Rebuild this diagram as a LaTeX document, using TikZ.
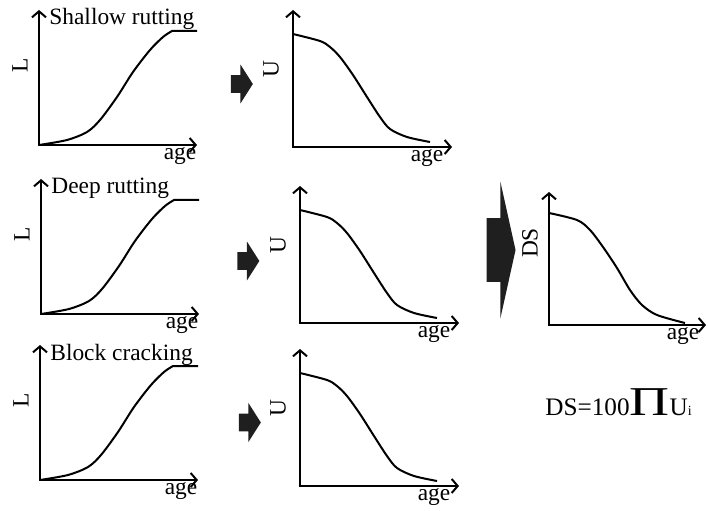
\documentclass[tikz,border=0pt]{standalone}
\usepackage{fontspec}
\usepackage{graphicx}
\setmainfont{Liberation Serif}
\usetikzlibrary{arrows.meta, shapes.arrows, positioning}

\begin{document}
\begin{tikzpicture}[x=0.5pt, y=0.5pt,
    axis/.style={line width=1pt, <->, >={Straight Barb[length=3pt,width=7pt]}},
    curve/.style={line width=1pt, smooth},
    lbl/.style={font=\fontsize{11.7}{14}\selectfont, inner sep=0pt},
    ylbl/.style={lbl, rotate=90},
    blockarrow/.style={single arrow, fill=black!88, draw=none, inner xsep=0pt, inner ysep=4.25pt, single arrow head extend=5.25pt, single arrow tip angle=115, minimum height=11pt},
    bigarrow/.style={single arrow, fill=black!88, draw=none, inner xsep=0pt, inner ysep=15.75pt, single arrow head extend=18.25pt, single arrow tip angle=155, minimum height=14.5pt}
]
    \useasboundingbox (0,0) rectangle (708,510);

    % LEFT: DISTRESS CURVES
    \begin{scope}[shift={(39,365)}]
        \draw[axis] (0,135) |- (158,0);
        \draw[curve] plot coordinates {(0,0) (28,5) (48,13) (61,25) (78,48) (94,73) (111,95) (124,108) (133,114)} -- (158,114);
        \node[ylbl] (L1) at (-19,80) {L};
        \node[lbl] (age1) at (141,-11) {age};
        \node[lbl, anchor=base west] (title1) at (10,120) {Shallow rutting};
    \end{scope}
    \begin{scope}[shift={(41,196)}]
        \draw[axis] (0,135) |- (158,0);
        \draw[curve] plot coordinates {(0,0) (28,5) (48,13) (61,25) (78,48) (94,73) (111,95) (124,108) (133,114)} -- (158,114);
        \node[ylbl] (L2) at (-19,80) {L};
        \node[lbl] (age2) at (141,-11) {age};
        \node[lbl, anchor=base west] (title2) at (10,120) {Deep rutting};
    \end{scope}
    \begin{scope}[shift={(40,30)}]
        \draw[axis] (0,135) |- (158,0);
        \draw[curve] plot coordinates {(0,0) (28,5) (48,13) (61,25) (78,48) (94,73) (111,95) (124,108) (133,114)} -- (158,114);
        \node[ylbl] (L3) at (-19,80) {L};
        \node[lbl] (age3) at (141,-11) {age};
        \node[lbl, anchor=base west] (title3) at (10,120) {Block cracking};
    \end{scope}

    % MIDDLE: UTILITY CURVES
    \node[blockarrow] (arrow1) at (239,426) {};
    \begin{scope}[shift={(293,363)}]
        \draw[axis] (0,137) |- (159,0);
        \draw[curve] plot coordinates {(0,113) (27,106) (37,100) (47,90) (60,72) (74,50) (87,30) (97,18) (114,10) (137,5)};
        \node[ylbl] (U1) at (-22,78) {U};
        \node[lbl] (age4) at (134,-11) {age};
    \end{scope}
    \node[blockarrow] (arrow2) at (245.5,249) {};
    \begin{scope}[shift={(300,187)}]
        \draw[axis] (0,137) |- (159,0);
        \draw[curve] plot coordinates {(0,113) (27,106) (37,100) (47,90) (60,72) (74,50) (87,30) (97,18) (114,10) (137,5)};
        \node[ylbl] (U2) at (-22,78) {U};
        \node[lbl] (age5) at (134,-11) {age};
    \end{scope}
    \node[blockarrow] (arrow3) at (247,87.5) {};
    \begin{scope}[shift={(300,24)}]
        \draw[axis] (0,137) |- (159,0);
        \draw[curve] plot coordinates {(0,113) (27,106) (37,100) (47,90) (60,72) (74,50) (87,30) (97,18) (114,10) (137,5)};
        \node[ylbl] (U3) at (-22,78) {U};
        \node[lbl] (age6) at (134,-11) {age};
    \end{scope}

    % RIGHT: DISTRESS SCORE
    \node[bigarrow] (arrow4) at (497.5,260) {};
    \begin{scope}[shift={(549,185)}]
        \draw[axis] (0,133) |- (157,0);
        \draw[curve] plot coordinates {(0,112) (28,105) (41,95) (54,78) (68,57) (81,35) (93,20) (108,10) (136,2)};
        \node[ylbl] (DS) at (-19,82) {DS};
        \node[lbl] (age7) at (134,-11) {age};
    \end{scope}
    \node[lbl, font=\fontsize{12.6}{14}\selectfont, anchor=base west] (formula) at (545,95) {DS=100{\fontsize{20.5}{21}\selectfont\scalebox{1.35}[1]{Π}}U{\fontsize{7}{8}\selectfont i}};
\end{tikzpicture}
\end{document}
